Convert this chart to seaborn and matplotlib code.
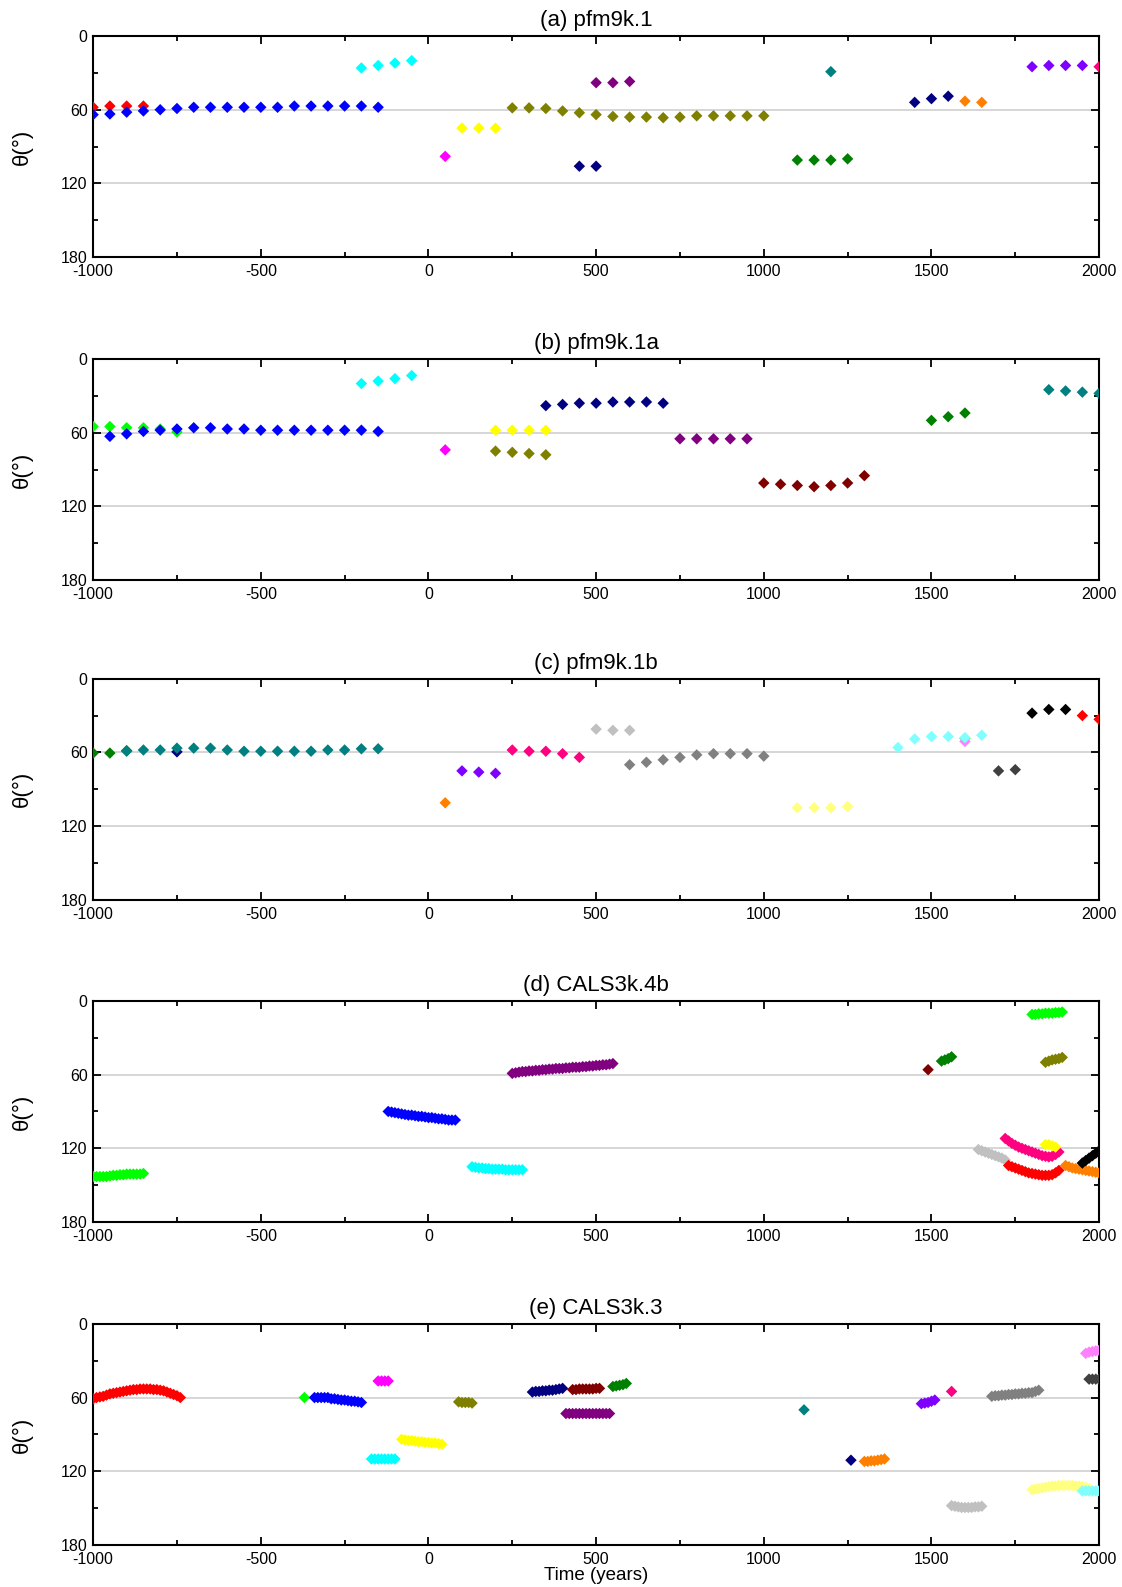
"""Colatitude theta of field features vs time, five models (a)-(e)."""

import matplotlib

matplotlib.use("Agg")
import matplotlib.pyplot as plt
import pandas as pd
import seaborn as sns
from matplotlib.ticker import MultipleLocator

# ---------------------------------------------------------------- colours
RED, BLUE, CYAN, MAGENTA, YELLOW = "#FF0000", "#0000FF", "#00FFFF", "#FF00FF", "#FFFF00"
OLIVE, PURPLE, NAVY, GREEN, TEAL = "#808000", "#800080", "#000080", "#008000", "#008080"
ORANGE, VIOLET, PINK, MAROON, LIME = "#FF8000", "#8000FF", "#FF0080", "#800000", "#00FF00"
SILVER, GRAY, DGRAY, BLACK = "#C0C0C0", "#808080", "#404040", "#000000"
LYELLOW, LCYAN, LMAGENTA = "#FFFF80", "#80FFFF", "#FF80FF"

TITLES = ["(a) pfm9k.1", "(b) pfm9k.1a", "(c) pfm9k.1b", "(d) CALS3k.4b", "(e) CALS3k.3"]

# ---------------------------------------------------------------- (a) pfm9k.1
A_RED_YR = [-1000, -950, -900, -850]
A_RED_TH = [58, 57, 57, 57]
A_BLUE_YR = [-1000, -950, -900, -850, -800, -750, -700, -650, -600, -550, -500, -450,
             -400, -350, -300, -250, -200, -150]
A_BLUE_TH = [64, 63.5, 62, 61, 60, 59, 58, 58, 58, 58, 58, 58, 57, 57, 57, 57, 57, 58]
A_CYAN_YR = [-200, -150, -100, -50]
A_CYAN_TH = [26, 24, 22, 20]
A_MAG_YR = [50]
A_MAG_TH = [98]
A_YEL_YR = [100, 150, 200]
A_YEL_TH = [75, 75, 75]
A_OLIVE_YR = [250, 300, 350, 400, 450, 500, 550, 600, 650, 700, 750, 800, 850, 900, 950, 1000]
A_OLIVE_TH = [58.5, 58.5, 59, 61, 62.5, 64, 65.5, 66, 66, 66.5, 66, 65, 65, 65, 65, 65]
A_PURP_YR = [500, 550, 600]
A_PURP_TH = [38, 38, 37]
A_NAVY1_YR = [450, 500]
A_NAVY1_TH = [106, 106]
A_GREEN_YR = [1100, 1150, 1200, 1250]
A_GREEN_TH = [101, 101, 101, 100]
A_TEAL_YR = [1200]
A_TEAL_TH = [29]
A_NAVY2_YR = [1450, 1500, 1550]
A_NAVY2_TH = [54, 51, 49]
A_ORANGE_YR = [1600, 1650]
A_ORANGE_TH = [53, 54]
A_VIOLET_YR = [1800, 1850, 1900, 1950]
A_VIOLET_TH = [25, 24, 24, 24]
A_PINK_YR = [2000]
A_PINK_TH = [25]

# ---------------------------------------------------------------- (b) pfm9k.1a
B_LIME_YR = [-1000, -950, -900, -850, -800, -750]
B_LIME_TH = [55, 55, 56, 56, 57, 59.5]
B_BLUE_YR = [-950, -900, -850, -800, -750, -700, -650, -600, -550, -500, -450, -400,
             -350, -300, -250, -200, -150]
B_BLUE_TH = [63, 61, 59, 58, 57, 56, 56, 57, 57, 58, 58, 58, 58, 58, 58, 58, 59]
B_CYAN_YR = [-200, -150, -100, -50]
B_CYAN_TH = [20, 18, 16, 13.5]
B_MAG_YR = [50]
B_MAG_TH = [74]
B_YEL_YR = [200, 250, 300, 350]
B_YEL_TH = [58, 58, 58, 58]
B_OLIVE_YR = [200, 250, 300, 350]
B_OLIVE_TH = [75, 76, 77, 78]
B_NAVY_YR = [350, 400, 450, 500, 550, 600, 650, 700]
B_NAVY_TH = [38, 37, 36, 36, 35, 35, 35, 36]
B_PURP_YR = [750, 800, 850, 900, 950]
B_PURP_TH = [65, 65, 65, 65, 65]
B_MAROON_YR = [1000, 1050, 1100, 1150, 1200, 1250, 1300]
B_MAROON_TH = [101, 102, 103, 104, 103, 101, 95]
B_GREEN_YR = [1500, 1550, 1600]
B_GREEN_TH = [50, 47, 44]
B_TEAL_YR = [1850, 1900, 1950, 2000]
B_TEAL_TH = [25, 26, 27, 28]

# ---------------------------------------------------------------- (c) pfm9k.1b
C_GREEN_YR = [-1000, -950, -900]
C_GREEN_TH = [60.5, 60.5, 58.5]
C_NAVY_YR = [-750]
C_NAVY_TH = [59.5]
C_TEAL_YR = [-900, -850, -800, -750, -700, -650, -600, -550, -500, -450, -400, -350,
             -300, -250, -200, -150]
C_TEAL_TH = [59, 58, 58, 56.5, 56.5, 56.5, 58, 59, 59, 59, 59, 59, 58, 58, 57, 57]
C_ORANGE_YR = [50]
C_ORANGE_TH = [101]
C_VIOLET_YR = [100, 150, 200]
C_VIOLET_TH = [75, 76, 77]
C_PINK_YR = [250, 300, 350, 400, 450]
C_PINK_TH = [58, 59, 59, 61, 64]
C_SILVER_YR = [500, 550, 600]
C_SILVER_TH = [41, 42, 42]
C_GRAY_YR = [600, 650, 700, 750, 800, 850, 900, 950, 1000]
C_GRAY_TH = [70, 68, 66, 64, 62, 61, 61, 61, 63]
C_LYEL_YR = [1100, 1150, 1200, 1250]
C_LYEL_TH = [105, 105, 105, 104]
C_LIME_YR = [1600]
C_LIME_TH = [48.5]
C_LMAG_YR = [1600]
C_LMAG_TH = [51]
C_LCYAN_YR = [1400, 1450, 1500, 1550, 1600, 1650]
C_LCYAN_TH = [56, 49, 47, 47, 48, 46]
C_DGRAY_YR = [1700, 1750]
C_DGRAY_TH = [75, 74]
C_BLACK_YR = [1800, 1850, 1900]
C_BLACK_TH = [28, 25, 25]
C_RED_YR = [1950, 2000]
C_RED_TH = [30, 33]

# ---------------------------------------------------------------- (d) CALS3k.4b
D_LIME1_YR = [-1000, -990, -980, -970, -960, -950, -940, -930, -920, -910, -900, -890,
              -880, -870, -860, -850]
D_LIME1_TH = [143, 143, 143, 143, 143, 142.5, 142, 142, 141.5, 141.5, 141, 141, 141,
              141, 141, 140.5]
D_BLUE_YR = [-120, -110, -100, -90, -80, -70, -60, -50, -40, -30, -20, -10, 0, 10, 20,
             30, 40, 50, 60, 70, 80]
D_BLUE_TH = [90, 90.5, 91, 91.5, 92, 92.5, 93, 93, 93.5, 94, 94, 94.5, 95, 95, 95.5, 96,
             96, 96.5, 97, 97, 97]
D_CYAN_YR = [130, 140, 150, 160, 170, 180, 190, 200, 210, 220, 230, 240, 250, 260, 270, 280]
D_CYAN_TH = [135, 135.5, 136, 136, 136.5, 136.5, 137, 137, 137, 137, 137.5, 137.5, 137.5,
             137.5, 137.5, 137.5]
D_PURP_YR = [250, 260, 270, 280, 290, 300, 310, 320, 330, 340, 350, 360, 370, 380, 390,
             400, 410, 420, 430, 440, 450, 460, 470, 480, 490, 500, 510, 520, 530, 540, 550]
D_PURP_TH = [59, 58.5, 58, 57.5, 57.5, 57, 57, 56.5, 56.5, 56, 56, 55.5, 55.5, 55, 55, 55,
             54.5, 54.5, 54, 54, 54, 53.5, 53.5, 53, 53, 52.5, 52.5, 52, 52, 51.5, 51]
D_MAROON_YR = [1490]
D_MAROON_TH = [56]
D_GREEN_YR = [1530, 1540, 1550, 1560]
D_GREEN_TH = [49, 48, 47, 45.5]
D_LIME2_YR = [1800, 1810, 1820, 1830, 1840, 1850, 1860, 1870, 1880, 1890]
D_LIME2_TH = [11, 11, 10.5, 10.5, 10, 10, 10, 9.5, 9.5, 9]
D_OLIVE_YR = [1840, 1850, 1860, 1870, 1880, 1890]
D_OLIVE_TH = [50, 49, 48, 47.5, 47, 46]
D_SILVER_YR = [1640, 1650, 1660, 1670, 1680, 1690, 1700, 1710, 1720]
D_SILVER_TH = [121, 122, 123, 124, 125, 126, 127, 128, 129.5]
D_PINK_YR = [1720, 1730, 1740, 1750, 1760, 1770, 1780, 1790, 1800, 1810, 1820, 1830,
             1840, 1850, 1860, 1870, 1880]
D_PINK_TH = [112, 114, 116, 117.5, 119, 120, 121, 122, 123, 124, 125, 126, 126.5, 127,
             126.5, 125, 123]
D_YEL_YR = [1840, 1850, 1860, 1870]
D_YEL_TH = [117, 117, 118, 119]
D_RED_YR = [1730, 1740, 1750, 1760, 1770, 1780, 1790, 1800, 1810, 1820, 1830, 1840, 1850,
            1860, 1870, 1880]
D_RED_TH = [134, 135, 136, 137, 138, 139, 140, 140.5, 141, 141.5, 142, 142, 142, 141.5,
            140, 138]
D_ORANGE_YR = [1900, 1910, 1920, 1930, 1940, 1950, 1960, 1970, 1980, 1990, 2000]
D_ORANGE_TH = [134, 135, 136, 136.5, 137, 137.5, 138, 138.5, 139, 139.5, 140]
D_BLACK_YR = [1950, 1960, 1970, 1980, 1990, 2000]
D_BLACK_TH = [132, 130, 128, 126, 124, 122]

# ---------------------------------------------------------------- (e) CALS3k.3
E_RED_YR = [-1000, -990, -980, -970, -960, -950, -940, -930, -920, -910, -900, -890, -880,
            -870, -860, -850, -840, -830, -820, -810, -800, -790, -780, -770, -760, -750, -740]
E_RED_TH = [61, 60, 59.5, 59, 58, 57, 56.5, 56, 55.5, 55, 54.5, 54, 53.5, 53.5, 53, 53,
            53, 53, 53.5, 53.5, 54, 54.5, 55.5, 56.5, 57.5, 58.5, 60]
E_LIME_YR = [-370]
E_LIME_TH = [60]
E_BLUE_YR = [-340, -330, -320, -310, -300, -290, -280, -270, -260, -250, -240, -230,
             -220, -210, -200]
E_BLUE_TH = [60, 60, 60, 60, 60, 61, 61, 61.5, 62, 62, 62.5, 63, 63, 63.5, 64]
E_MAG_YR = [-150, -140, -130, -120]
E_MAG_TH = [46.5, 46.5, 46.5, 46.5]
E_CYAN_YR = [-170, -160, -150, -140, -130, -120, -110, -100]
E_CYAN_TH = [110, 110, 110, 110, 110, 110, 110, 110]
E_YEL_YR = [-80, -70, -60, -50, -40, -30, -20, -10, 0, 10, 20, 30, 40]
E_YEL_TH = [94, 94.5, 95, 95, 95.5, 96, 96, 96.5, 96.5, 97, 97, 97.5, 98]
E_OLIVE_YR = [90, 100, 110, 120, 130]
E_OLIVE_TH = [63.5, 64, 64, 64, 64.5]
E_NAVY_YR = [310, 320, 330, 340, 350, 360, 370, 380, 390, 400]
E_NAVY_TH = [55.5, 55, 55, 54.5, 54.5, 54, 54, 53.5, 53, 52.5]
E_MAROON_YR = [430, 440, 450, 460, 470, 480, 490, 500, 510]
E_MAROON_TH = [53.5, 53.5, 53, 53, 53, 53, 53, 52.5, 52.5]
E_GREEN_YR = [550, 560, 570, 580, 590]
E_GREEN_TH = [51, 50.5, 50, 49.5, 48.5]
E_PURP_YR = [410, 420, 430, 440, 450, 460, 470, 480, 490, 500, 510, 520, 530, 540]
E_PURP_TH = [73, 73, 73, 73, 73, 73, 73, 73, 73, 73, 73, 73, 73, 73]
E_TEAL_YR = [1120]
E_TEAL_TH = [70]
E_NAVY2_YR = [1260]
E_NAVY2_TH = [111]
E_ORANGE_YR = [1300, 1310, 1320, 1330, 1340, 1350, 1360]
E_ORANGE_TH = [112, 112, 111.5, 111.5, 111, 110.5, 110]
E_VIOLET_YR = [1470, 1480, 1490, 1500, 1510]
E_VIOLET_TH = [65, 64.5, 64, 63, 62]
E_PINK_YR = [1560]
E_PINK_TH = [55]
E_GRAY_YR = [1680, 1690, 1700, 1710, 1720, 1730, 1740, 1750, 1760, 1770, 1780, 1790,
             1800, 1810, 1820]
E_GRAY_TH = [59, 58.5, 58.5, 58, 58, 57.5, 57.5, 57, 57, 56.5, 56.5, 56, 56, 55, 54]
E_SILVER_YR = [1560, 1570, 1580, 1590, 1600, 1610, 1620, 1630, 1640, 1650]
E_SILVER_TH = [148, 148.5, 149, 149.5, 149.5, 149.5, 149.5, 149, 149, 148.5]
E_LYEL_YR = [1800, 1810, 1820, 1830, 1840, 1850, 1860, 1870, 1880, 1890, 1900, 1910,
             1920, 1930, 1940, 1950, 1960, 1970]
E_LYEL_TH = [135, 134.5, 134, 133.5, 133, 132.5, 132, 132, 131.5, 131.5, 131.5, 131.5,
             131.5, 132, 132, 132.5, 133, 134]
E_LCYAN_YR = [1950, 1960, 1970, 1980, 1990, 2000]
E_LCYAN_TH = [136, 136, 136, 136, 136, 136]
E_LMAG_YR = [1960, 1970, 1980, 1990, 2000]
E_LMAG_TH = [24, 23, 22.5, 22, 21.5]
E_DGRAY_YR = [1970, 1980, 1990, 2000]
E_DGRAY_TH = [45, 45, 45, 45]

# series per panel, listed in drawing order (later ones on top)
PANELS = [
    [("red", RED, A_RED_YR, A_RED_TH), ("blue", BLUE, A_BLUE_YR, A_BLUE_TH),
     ("cyan", CYAN, A_CYAN_YR, A_CYAN_TH), ("mag", MAGENTA, A_MAG_YR, A_MAG_TH),
     ("yel", YELLOW, A_YEL_YR, A_YEL_TH), ("olive", OLIVE, A_OLIVE_YR, A_OLIVE_TH),
     ("purp", PURPLE, A_PURP_YR, A_PURP_TH), ("navy1", NAVY, A_NAVY1_YR, A_NAVY1_TH),
     ("green", GREEN, A_GREEN_YR, A_GREEN_TH), ("teal", TEAL, A_TEAL_YR, A_TEAL_TH),
     ("navy2", NAVY, A_NAVY2_YR, A_NAVY2_TH), ("orange", ORANGE, A_ORANGE_YR, A_ORANGE_TH),
     ("violet", VIOLET, A_VIOLET_YR, A_VIOLET_TH), ("pink", PINK, A_PINK_YR, A_PINK_TH)],
    [("lime", LIME, B_LIME_YR, B_LIME_TH), ("blue", BLUE, B_BLUE_YR, B_BLUE_TH),
     ("cyan", CYAN, B_CYAN_YR, B_CYAN_TH), ("mag", MAGENTA, B_MAG_YR, B_MAG_TH),
     ("yel", YELLOW, B_YEL_YR, B_YEL_TH), ("olive", OLIVE, B_OLIVE_YR, B_OLIVE_TH),
     ("navy", NAVY, B_NAVY_YR, B_NAVY_TH), ("purp", PURPLE, B_PURP_YR, B_PURP_TH),
     ("maroon", MAROON, B_MAROON_YR, B_MAROON_TH), ("green", GREEN, B_GREEN_YR, B_GREEN_TH),
     ("teal", TEAL, B_TEAL_YR, B_TEAL_TH)],
    [("green", GREEN, C_GREEN_YR, C_GREEN_TH), ("navy", NAVY, C_NAVY_YR, C_NAVY_TH),
     ("teal", TEAL, C_TEAL_YR, C_TEAL_TH), ("orange", ORANGE, C_ORANGE_YR, C_ORANGE_TH),
     ("violet", VIOLET, C_VIOLET_YR, C_VIOLET_TH), ("pink", PINK, C_PINK_YR, C_PINK_TH),
     ("silver", SILVER, C_SILVER_YR, C_SILVER_TH), ("gray", GRAY, C_GRAY_YR, C_GRAY_TH),
     ("lyel", LYELLOW, C_LYEL_YR, C_LYEL_TH), ("lime", LIME, C_LIME_YR, C_LIME_TH),
     ("lmag", LMAGENTA, C_LMAG_YR, C_LMAG_TH), ("lcyan", LCYAN, C_LCYAN_YR, C_LCYAN_TH),
     ("dgray", DGRAY, C_DGRAY_YR, C_DGRAY_TH), ("black", BLACK, C_BLACK_YR, C_BLACK_TH),
     ("red", RED, C_RED_YR, C_RED_TH)],
    [("lime1", LIME, D_LIME1_YR, D_LIME1_TH), ("blue", BLUE, D_BLUE_YR, D_BLUE_TH),
     ("cyan", CYAN, D_CYAN_YR, D_CYAN_TH), ("purp", PURPLE, D_PURP_YR, D_PURP_TH),
     ("maroon", MAROON, D_MAROON_YR, D_MAROON_TH), ("green", GREEN, D_GREEN_YR, D_GREEN_TH),
     ("lime2", LIME, D_LIME2_YR, D_LIME2_TH), ("olive", OLIVE, D_OLIVE_YR, D_OLIVE_TH),
     ("silver", SILVER, D_SILVER_YR, D_SILVER_TH), ("pink", PINK, D_PINK_YR, D_PINK_TH),
     ("yel", YELLOW, D_YEL_YR, D_YEL_TH), ("red", RED, D_RED_YR, D_RED_TH),
     ("orange", ORANGE, D_ORANGE_YR, D_ORANGE_TH), ("black", BLACK, D_BLACK_YR, D_BLACK_TH)],
    [("red", RED, E_RED_YR, E_RED_TH), ("lime", LIME, E_LIME_YR, E_LIME_TH),
     ("blue", BLUE, E_BLUE_YR, E_BLUE_TH), ("mag", MAGENTA, E_MAG_YR, E_MAG_TH),
     ("cyan", CYAN, E_CYAN_YR, E_CYAN_TH), ("yel", YELLOW, E_YEL_YR, E_YEL_TH),
     ("olive", OLIVE, E_OLIVE_YR, E_OLIVE_TH), ("navy", NAVY, E_NAVY_YR, E_NAVY_TH),
     ("maroon", MAROON, E_MAROON_YR, E_MAROON_TH), ("green", GREEN, E_GREEN_YR, E_GREEN_TH),
     ("purp", PURPLE, E_PURP_YR, E_PURP_TH), ("teal", TEAL, E_TEAL_YR, E_TEAL_TH),
     ("navy2", NAVY, E_NAVY2_YR, E_NAVY2_TH), ("orange", ORANGE, E_ORANGE_YR, E_ORANGE_TH),
     ("violet", VIOLET, E_VIOLET_YR, E_VIOLET_TH), ("pink", PINK, E_PINK_YR, E_PINK_TH),
     ("gray", GRAY, E_GRAY_YR, E_GRAY_TH), ("silver", SILVER, E_SILVER_YR, E_SILVER_TH),
     ("lyel", LYELLOW, E_LYEL_YR, E_LYEL_TH), ("lcyan", LCYAN, E_LCYAN_YR, E_LCYAN_TH),
     ("lmag", LMAGENTA, E_LMAG_YR, E_LMAG_TH), ("dgray", DGRAY, E_DGRAY_YR, E_DGRAY_TH)],
]

# axes bottoms in figure fraction (top to bottom)
BOTTOMS = [0.838, 0.6345, 0.433, 0.230, 0.0265]


def _set_style() -> None:
    sns.set_style("ticks")
    plt.rcParams["font.family"] = ["Liberation Sans", "DejaVu Sans"]
    plt.rcParams["axes.linewidth"] = 1.5
    plt.rcParams["axes.unicode_minus"] = False
    for key in ("text.color", "axes.labelcolor", "xtick.color", "ytick.color",
                "axes.edgecolor"):
        plt.rcParams[key] = "black"


def _draw_panel(ax, series, title, last):
    df = pd.concat(
        [pd.DataFrame({"year": yr, "theta": th, "series": name}) for name, _, yr, th in series],
        ignore_index=True,
    )
    palette = {name: col for name, col, _, _ in series}
    sns.scatterplot(data=df, x="year", y="theta", hue="series", palette=palette,
                    marker="D", s=34, linewidth=0, legend=False, ax=ax, zorder=3)
    ax.set_xlim(-1000, 2000)
    ax.set_ylim(180, 0)
    ax.xaxis.set_major_locator(MultipleLocator(500))
    ax.xaxis.set_minor_locator(MultipleLocator(250))
    ax.yaxis.set_major_locator(MultipleLocator(60))
    ax.yaxis.set_minor_locator(MultipleLocator(30))
    ax.tick_params(which="both", direction="in", top=True, right=True, width=1.3,
                   labelsize=11.5)
    ax.tick_params(which="major", length=6)
    ax.tick_params(which="minor", length=3.5)
    ax.tick_params(axis="x", pad=5)
    ax.tick_params(axis="y", pad=4)
    ax.grid(axis="y", which="major", color="#d3d3d3", lw=1.3, zorder=0)
    ax.set_axisbelow(True)
    ax.set_title(title, fontsize=16, pad=7)
    ax.set_ylabel("θ(°)", fontsize=16)
    ax.yaxis.set_label_coords(-0.06, 0.5)
    if last:
        ax.set_xlabel("Time (years)", fontsize=13.5, labelpad=0)
    else:
        ax.set_xlabel("")


_set_style()
fig = plt.figure(figsize=(11.22, 15.87), dpi=100)
for i, (series, title, bottom) in enumerate(zip(PANELS, TITLES, BOTTOMS)):
    ax = fig.add_axes([0.083, bottom, 0.8966, 0.1393])
    _draw_panel(ax, series, title, last=(i == len(PANELS) - 1))
fig.savefig("out.png", dpi=100)
